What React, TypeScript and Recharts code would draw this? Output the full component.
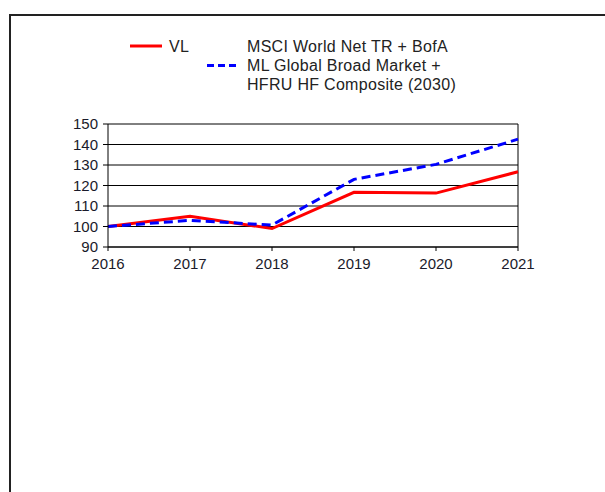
import React from "react";
import { LineChart, Line, XAxis, YAxis, CartesianGrid, ReferenceLine } from "recharts";

const years = [2016, 2017, 2018, 2019, 2020, 2021];
const vlValues = [100, 105, 99, 116.7, 116.3, 126.7];
const benchValues = [100, 103, 100.7, 123, 130.3, 142.6];
const yTicks = [90, 100, 110, 120, 130, 140, 150];

const data = years.map((y, i) => ({ year: y, vl: vlValues[i], bench: benchValues[i] }));

const FONT = "'Liberation Sans', Arial, sans-serif";

export default function App() {
  return (
    <div style={{ position: "fixed", left: 0, top: 0, width: 605, height: 492, overflow: "hidden", background: "#fff" }}>
      <div style={{ position: "absolute", left: 9, top: 14, width: 800, height: 800, border: "2px solid #222", boxSizing: "border-box" }} />
      <div style={{ position: "absolute", left: 0, top: 0 }}>
        <LineChart width={605} height={492} data={data} margin={{ top: 124, right: 87, bottom: 215, left: 68 }}>
          <CartesianGrid vertical={false} stroke="#000" strokeWidth={1} />
          <XAxis
            dataKey="year"
            type="number"
            domain={[2016, 2021]}
            ticks={years}
            height={30}
            axisLine={{ stroke: "#000" }}
            tickLine={{ stroke: "#000" }}
            tickSize={4}
            tickMargin={7}
            tick={{ fill: "#1a1a2a", fontSize: 15, fontFamily: FONT }}
            interval={0}
          />
          <YAxis
            type="number"
            domain={[90, 150]}
            ticks={yTicks}
            width={40}
            axisLine={{ stroke: "#000" }}
            tickLine={{ stroke: "#000" }}
            tickSize={5}
            tickMargin={5}
            tick={{ fill: "#1a1a2a", fontSize: 15, fontFamily: FONT }}
            interval={0}
          />
          <ReferenceLine x={2021} stroke="#000" strokeWidth={1} />
          <Line dataKey="vl" stroke="#ff0000" strokeWidth={3} dot={false} isAnimationActive={false} />
          <Line dataKey="bench" stroke="#0000ff" strokeWidth={3} strokeDasharray="9 5" dot={false} isAnimationActive={false} />
        </LineChart>
      </div>
      <svg style={{ position: "absolute", left: 0, top: 0 }} width={605} height={120}>
        <line x1={130} x2={162} y1={46} y2={46} stroke="#ff0000" strokeWidth={3} />
        <text x={169} y={52} fontSize={16} fontFamily={FONT} fill="#222" letterSpacing={0.3}>VL</text>
        <line x1={207} x2={238} y1={65.5} y2={65.5} stroke="#0000ff" strokeWidth={3} strokeDasharray="7 4" />
        <text x={247} y={52} fontSize={16} fontFamily={FONT} fill="#222" letterSpacing={0.3}>MSCI World Net TR + BofA</text>
        <text x={247} y={71} fontSize={16} fontFamily={FONT} fill="#222" letterSpacing={0.3}>ML Global Broad Market +</text>
        <text x={247} y={90} fontSize={16} fontFamily={FONT} fill="#222" letterSpacing={0.3}>HFRU HF Composite (2030)</text>
      </svg>
    </div>
  );
}
